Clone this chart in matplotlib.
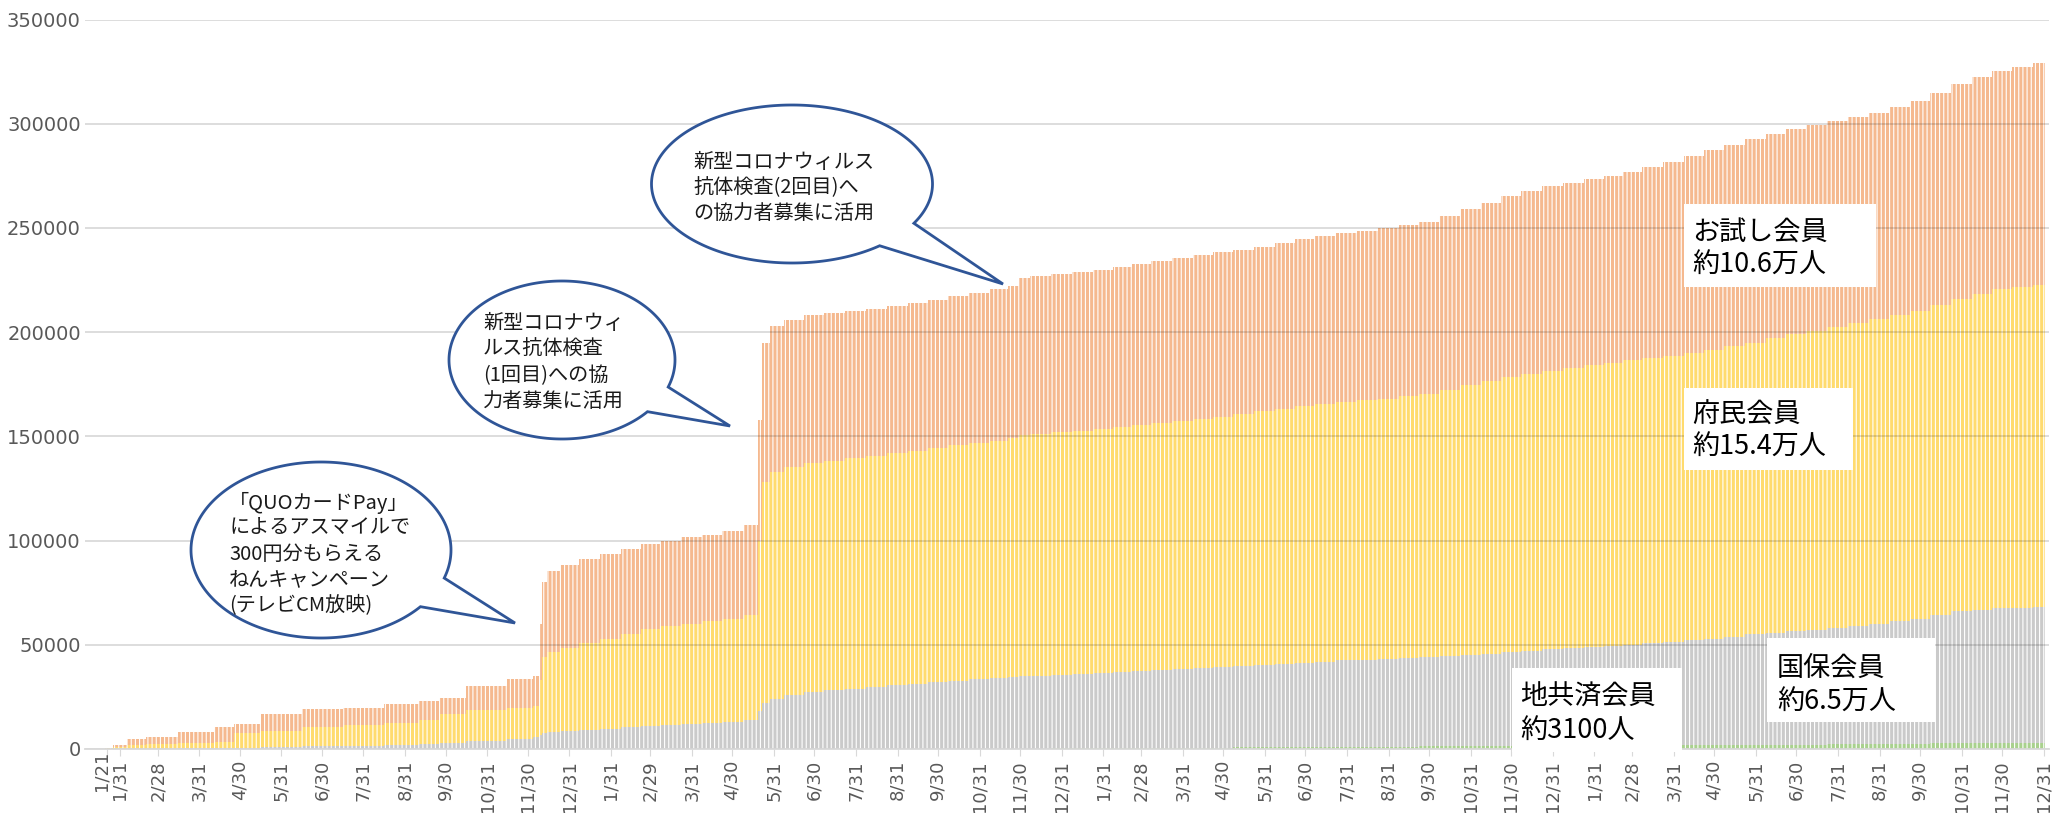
import datetime

import numpy as np
import matplotlib
matplotlib.use("Agg")
import matplotlib.dates as mdates
import matplotlib.transforms as mtransforms
from matplotlib import pyplot as plt
from matplotlib.patches import Polygon, Rectangle

plt.rcParams["font.family"] = ["Noto Sans CJK JP", "DejaVu Sans"]
plt.rcParams["hatch.color"] = "white"
plt.rcParams["hatch.linewidth"] = 0.8

# 会員数の推移（グラフからの読み取り値）
dates = [
    "2019-01-21", "2019-01-31", "2019-02-10", "2019-02-28", "2019-03-31", "2019-04-22", "2019-04-30",
    "2019-05-31", "2019-06-30", "2019-07-31", "2019-08-31", "2019-09-20", "2019-09-30", "2019-10-31",
    "2019-11-30", "2019-12-08", "2019-12-10", "2019-12-12", "2019-12-17", "2019-12-31",
    "2020-01-15", "2020-01-31", "2020-02-15", "2020-02-29", "2020-03-15", "2020-03-31", "2020-04-15",
    "2020-04-30", "2020-05-18", "2020-05-20", "2020-05-25", "2020-05-31", "2020-06-15", "2020-06-30",
    "2020-07-15", "2020-07-31", "2020-08-15", "2020-08-31", "2020-09-15", "2020-09-30", "2020-10-15",
    "2020-10-31", "2020-11-15", "2020-11-28", "2020-11-30", "2020-12-15", "2020-12-31",
    "2021-01-15", "2021-01-31", "2021-02-15", "2021-02-28", "2021-03-15", "2021-03-31", "2021-04-15",
    "2021-04-30", "2021-05-15", "2021-05-31", "2021-06-15", "2021-06-30", "2021-07-15", "2021-07-31",
    "2021-08-15", "2021-08-31", "2021-09-15", "2021-09-30", "2021-10-15", "2021-10-31", "2021-11-15",
    "2021-11-30", "2021-12-15", "2021-12-31",
    "2022-01-15", "2022-01-31", "2022-02-15", "2022-02-28", "2022-03-15", "2022-03-31", "2022-04-15",
    "2022-04-30", "2022-05-15", "2022-05-31", "2022-06-15", "2022-06-30", "2022-07-15", "2022-07-31",
    "2022-08-15", "2022-08-31", "2022-09-15", "2022-09-30", "2022-10-15", "2022-10-31", "2022-11-15",
    "2022-11-30", "2022-12-15", "2022-12-31",
]
# 地共済会員
chikyosai = ([0] * 20
             + [0] * 26 + [300]
             + [350, 400, 450, 500, 550, 600, 650, 700, 750, 800, 850, 900,
                950, 1000, 1050, 1100, 1150, 1200, 1250, 1300, 1350, 1400, 1450, 1500]
             + [1550, 1600, 1650, 1700, 1750, 1800, 1850, 1900, 1950, 2000, 2050, 2100,
                2150, 2200, 2300, 2400, 2500, 2600, 2700, 2800, 2900, 3000, 3050, 3100])
# 国保会員
kokuho = [0, 0, 0, 100, 300, 500, 600, 900, 1200, 1500, 2000, 2600, 3000, 3800, 4800, 5600, 6500, 7500, 8000, 8400,
          9100, 9800, 10400, 11000, 11500, 12000, 12500, 13000, 14000, 18000, 22000, 24000, 26000, 27500,
          28300, 29000, 29800, 30500, 31200, 32000, 32800, 33500, 34000, 34500, 35000, 35100, 35200,
          35600, 36100, 36500, 37000, 37400, 37900, 38300, 38800, 39200, 39700, 40100, 40600,
          41000, 41500, 41700, 41900, 42300, 42800, 43200, 43700, 44400, 45100, 45800, 46500,
          46900, 47400, 47800, 48300, 49000, 49700, 50400, 51100, 52000, 53000, 53700, 54400,
          55100, 55800, 56700, 57600, 58700, 59900, 61500, 63200, 63900, 64500, 64800, 65000]
# 府民会員
fumin = [300, 800, 2000, 2200, 2500, 2700, 6900, 7900, 9200, 10000, 10400, 11400, 13700, 15000, 14700, 14800,
         26500, 36500, 38500, 40200,
         41700, 43200, 44900, 46500, 47300, 48000, 48700, 49500, 50500, 82000, 106000, 109000, 109300, 109500,
         110000, 110500, 111000, 111500, 112000, 112500, 113000, 113500, 114000, 114500, 115500, 116000, 116500,
         116700, 117000, 117500, 118000, 118500, 119000, 119500, 120000, 120700, 121500, 122200, 123000,
         123500, 124000, 124500, 125000, 125700, 126500, 128000, 129500, 130700, 132000, 132700, 133500,
         134200, 135000, 135700, 136500, 136700, 137000, 137700, 138500, 139200, 140000, 141200, 142500,
         143500, 144500, 145500, 146500, 147000, 147500, 148700, 150000, 151500, 153000, 153700, 154400]
# お試し会員
otameshi = [300, 1000, 2800, 3300, 5200, 7200, 4500, 7900, 8700, 8400, 9100, 9000, 8000, 11500, 14000, 14700,
            27000, 36000, 39000, 39900,
            40200, 40500, 40700, 41000, 41200, 41500, 41700, 42000, 43000, 58000, 67000, 70000, 70600, 71000,
            70700, 70500, 70500, 70500, 70800, 71000, 71500, 72000, 72600, 73300, 75500, 75800, 76000,
            76200, 76500, 76700, 77000, 77500, 78000, 78500, 79000, 79000, 79000, 79500, 80000,
            80500, 81000, 81500, 82000, 82200, 82500, 83500, 84500, 85700, 87000, 87700, 88500,
            89000, 89500, 90000, 90500, 91700, 93000, 94500, 96000, 96700, 97500, 98000, 98500,
            98700, 99000, 98700, 98500, 99700, 101000, 102000, 103000, 104000, 105000, 105700, 106500]

series = [
    (chikyosai, "#A9D18E"),
    (kokuho, "#CACACA"),
    (fumin, "#FFDB6E"),
    (otameshi, "#F5B98F"),
]

x = mdates.date2num([datetime.datetime.strptime(d, "%Y-%m-%d") for d in dates])
mids = (x[1:] + x[:-1]) / 2
left = np.concatenate([[x[0] - 1], mids])
right = np.concatenate([mids, [x[-1] + 1]])

fig = plt.figure(figsize=(20.57, 8.24), dpi=100)
W, H = 2057, 824
ax = fig.add_axes([85 / W, 1 - 749 / H, (2049 - 85) / W, (749 - 19.5) / H])

bottom = np.zeros(len(x))
for values, color in series:
    v = np.array(values, dtype=float)
    ax.bar(left, v, width=right - left, bottom=bottom, align="edge", color=color,
           hatch="||||", linewidth=0, zorder=2)
    bottom += v

ax.set_ylim(0, 350000)
ax.set_yticks(np.arange(0, 350001, 50000))
ax.yaxis.grid(True, color="black", alpha=0.15, linewidth=1.3, zorder=3)
ax.set_axisbelow(False)

ticks = [datetime.datetime(2019, 1, 21)]
for yr in range(2019, 2023):
    for m in range(1, 13):
        nxt = datetime.datetime(yr + (m == 12), m % 12 + 1, 1)
        ticks.append(nxt - datetime.timedelta(days=1))
ax.set_xticks(mdates.date2num(ticks))
ax.set_xticklabels([f"{t.month}/{t.day}" for t in ticks], rotation=90, va="top", ha="center",
                   family="DejaVu Sans", fontsize=13, color="#595959")
ax.set_xlim(mdates.date2num(datetime.datetime(2019, 1, 5)), mdates.date2num(datetime.datetime(2023, 1, 4)))
ax.tick_params(axis="x", length=5, color="#D9D9D9", pad=3)
ax.tick_params(axis="y", length=0, pad=3)
# 1/21 のラベルは少し左上にずらす
first = ax.get_xticklabels()[0]
first.set_transform(first.get_transform() + mtransforms.ScaledTranslation(-5 / 100, 9 / 100, fig.dpi_scale_trans))
for lab in ax.get_yticklabels():
    lab.set_family("DejaVu Sans")
    lab.set_fontsize(14)
    lab.set_color("#595959")
for s in ["top", "right", "left"]:
    ax.spines[s].set_visible(False)
ax.spines["bottom"].set_color("#D9D9D9")
ax.spines["bottom"].set_linewidth(1.3)
ax.spines["bottom"].set_zorder(4)

# 注記用のピクセル座標レイヤー
ov = fig.add_axes([0, 0, 1, 1], zorder=10)
ov.set_xlim(0, W)
ov.set_ylim(H, 0)
ov.axis("off")
ov.patch.set_alpha(0)

BLUE = "#2F5597"


def bubble(cx, cy, w, h, base1, base2, tip, lines, tx, ty, step):
    a, b = w / 2, h / 2
    t1 = np.arctan2((base1[1] - cy) / b, (base1[0] - cx) / a)
    t2 = np.arctan2((base2[1] - cy) / b, (base2[0] - cx) / a)
    d = (t2 - t1) % (2 * np.pi)
    if d < np.pi:
        ts = t1 - np.linspace(0, 2 * np.pi - d, 300)
    else:
        ts = t1 + np.linspace(0, d, 300)
    pts = [(cx + a * np.cos(t), cy + b * np.sin(t)) for t in ts]
    pts.append(tip)
    ov.add_patch(Polygon(pts, closed=True, facecolor="white", edgecolor=BLUE, linewidth=2.0, joinstyle="miter"))
    for i, line in enumerate(lines):
        ov.text(tx, ty + i * step, line, fontsize=14.5, va="center", ha="left", color="#1A1A1A")


bubble(321, 550, 260, 176, (444, 578), (421, 607), (515, 623),
       ["「QUOカードPay」", "によるアスマイルで", "300円分もらえる", "ねんキャンペーン", "(テレビCM放映)"],
       229, 503, 25.5)
bubble(562, 360, 226, 158, (668, 387), (648, 412), (730, 426),
       ["新型コロナウィ", "ルス抗体検査", "(1回目)への協", "力者募集に活用"],
       483, 323, 26.3)
bubble(792, 184, 281, 158, (913, 223), (880, 246), (1003, 284),
       ["新型コロナウィルス", "抗体検査(2回目)へ", "の協力者募集に活用"],
       693, 162, 25.5)


def label_box(x0, y0, x1, y1, lines, tx, ty, step):
    ov.add_patch(Rectangle((x0, y0), x1 - x0, y1 - y0, facecolor="white", edgecolor="none"))
    for i, line in enumerate(lines):
        ov.text(tx, ty + i * step, line, fontsize=19.5, va="center", ha="left", color="black")


label_box(1684, 204, 1876, 287, ["お試し会員", "約10.6万人"], 1692, 233, 32)
label_box(1684, 388, 1853, 470, ["府民会員", "約15.4万人"], 1692, 415, 32)
label_box(1512, 668, 1682, 752, ["地共済会員", "約3100人"], 1520, 697, 33)
label_box(1767, 638, 1935, 722, ["国保会員", "約6.5万人"], 1777, 668, 34)

fig.savefig("out.png", dpi=100)
plt.close(fig)
